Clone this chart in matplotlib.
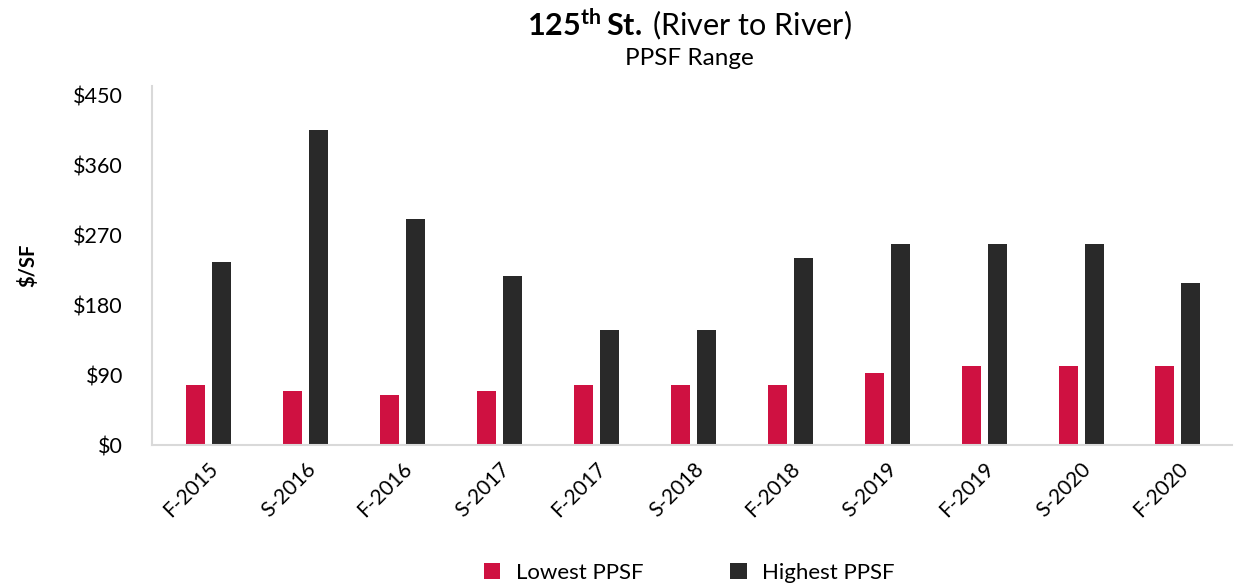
import numpy as np
import matplotlib.pyplot as plt

plt.rcParams['font.family'] = ['Lato', 'DejaVu Sans']
plt.rcParams['mathtext.fontset'] = 'custom'
plt.rcParams['mathtext.rm'] = 'Lato'
plt.rcParams['mathtext.bf'] = 'Lato:bold'

periods = ['F-2015', 'S-2016', 'F-2016', 'S-2017', 'F-2017', 'S-2018',
           'F-2018', 'S-2019', 'F-2019', 'S-2020', 'F-2020']
lowest_ppsf = [78, 70, 65, 70, 78, 78, 78, 93, 102, 102, 102]
highest_ppsf = [236, 406, 291, 218, 148, 148, 241, 259, 259, 259, 209]

red = '#CF1141'
dark = '#292929'

fig = plt.figure(figsize=(12.36, 5.84), dpi=100)
ax = fig.add_axes([0.123, 0.238, 0.874, 0.615])

x = np.arange(len(periods))
w = 0.196
ax.bar(x - 0.134, lowest_ppsf, w, color=red, label='Lowest PPSF')
ax.bar(x + 0.134, highest_ppsf, w, color=dark, label='Highest PPSF')

ax.set_xlim(-0.58, 10.56)
ax.set_ylim(0, 463)
ax.set_yticks(range(0, 451, 90))
ax.set_yticklabels(['${}'.format(v) for v in range(0, 451, 90)], fontsize=15.5)
ax.set_xticks(x)
ax.set_xticklabels(periods, rotation=45, ha='right', rotation_mode='anchor', fontsize=15)
ax.tick_params(axis='y', length=0, pad=21)
ax.tick_params(axis='x', length=0, pad=10)

for s in ['top', 'right']:
    ax.spines[s].set_visible(False)
for s in ['left', 'bottom']:
    ax.spines[s].set_color('#D9D9D9')
    ax.spines[s].set_linewidth(1.5)

ax.set_ylabel('$/SF', fontsize=14.5, fontweight='bold', labelpad=25)

fig.text(0.558, 0.957, r'$\mathbf{125}^{\mathbf{th}}\,\mathbf{St.}\,$(River to River)',
         ha='center', va='center', fontsize=22)
fig.text(0.558, 0.9, 'PPSF Range', ha='center', va='center', fontsize=17.5)

fig.legend(loc='lower center', bbox_to_anchor=(0.5575, -0.032), ncol=2, frameon=False,
           fontsize=16, handlelength=0.75, handleheight=0.75, columnspacing=3.9,
           handletextpad=0.7)

fig.savefig('out.png', dpi=100)
